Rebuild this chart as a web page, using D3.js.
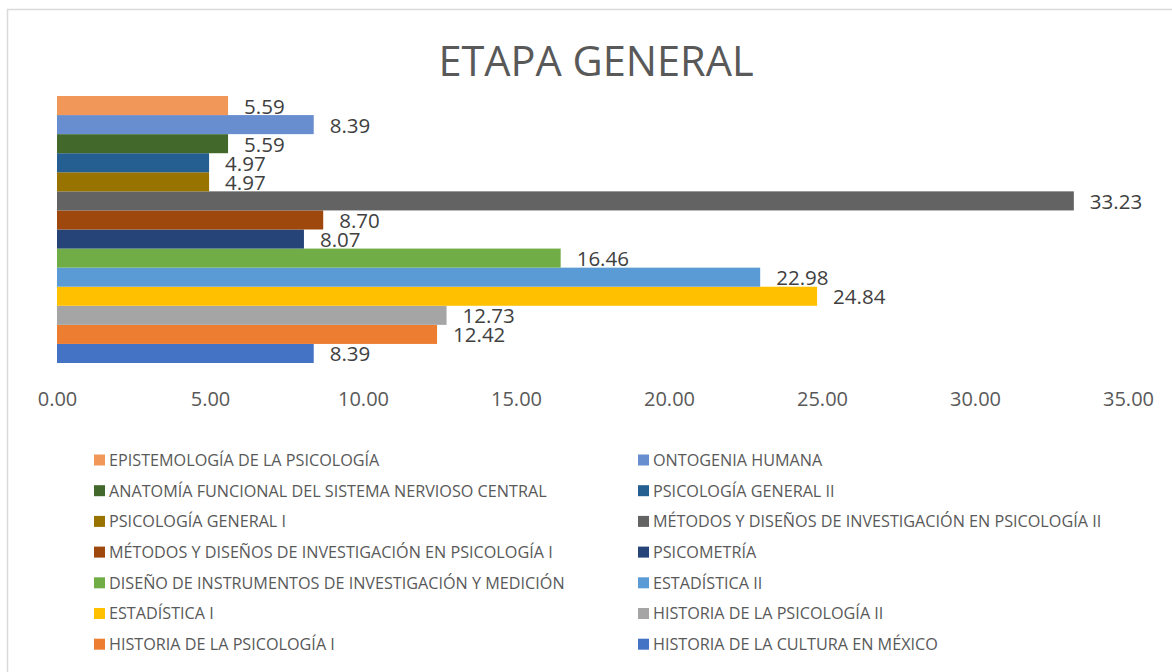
<!DOCTYPE html>
<html>
<head>
<meta charset="utf-8">
<script src="https://cdn.jsdelivr.net/npm/d3@7"></script>
<style>
  body { margin: 0; background: #fff; }
  svg { display: block; font-family: "Open Sans", sans-serif; }
</style>
</head>
<body>
<svg id="chart" width="1172" height="672"></svg>
<script>
// series in plot order (first one is the bottom bar)
var series = [
    "HISTORIA DE LA CULTURA EN MÉXICO",
    "HISTORIA DE LA PSICOLOGÍA I",
    "HISTORIA DE LA PSICOLOGÍA II",
    "ESTADÍSTICA I",
    "ESTADÍSTICA II",
    "DISEÑO DE INSTRUMENTOS DE INVESTIGACIÓN Y MEDICIÓN",
    "PSICOMETRÍA",
    "MÉTODOS Y DISEÑOS DE INVESTIGACIÓN EN PSICOLOGÍA I",
    "MÉTODOS Y DISEÑOS DE INVESTIGACIÓN EN PSICOLOGÍA II",
    "PSICOLOGÍA GENERAL I",
    "PSICOLOGÍA GENERAL II",
    "ANATOMÍA FUNCIONAL DEL SISTEMA NERVIOSO CENTRAL",
    "ONTOGENIA HUMANA",
    "EPISTEMOLOGÍA DE LA PSICOLOGÍA"
];
var values = [8.39, 12.42, 12.73, 24.84, 22.98, 16.46, 8.07, 8.70, 33.23, 4.97, 4.97, 5.59, 8.39, 5.59];
var colors = ["#4472C4", "#ED7D31", "#A5A5A5", "#FFC000", "#5B9BD5", "#70AD47",
              "#264478", "#9E480E", "#636363", "#997300", "#255E91", "#43682B",
              "#698ED0", "#F1975A"];
var xTicks = [0, 5, 10, 15, 20, 25, 30, 35];
var title = "ETAPA GENERAL";

var svg = d3.select("#chart");

// chart area frame
svg.append("rect")
    .attr("x", 7.5).attr("y", 9.5)
    .attr("width", 1180).attr("height", 680)
    .attr("fill", "#fff")
    .attr("stroke", "#d9d9d9")
    .attr("stroke-width", 1.5);

svg.append("text")
    .attr("x", 596).attr("y", 76)
    .attr("text-anchor", "middle")
    .attr("font-size", 41.5)
    .attr("fill", "#595959")
    .text(title);

var x = d3.scaleLinear().domain([0, 35]).range([57, 1128]);
var y = d3.scaleBand().domain(series).range([363, 96]).padding(0);

var rows = series.map(function(s, i) { return {name: s, value: values[i], color: colors[i]}; });

svg.append("g")
    .selectAll("rect.bar")
    .data(rows)
    .enter()
    .append("rect")
    .classed("bar", true)
    .attr("x", x(0))
    .attr("y", function(d) { return y(d.name); })
    .attr("width", function(d) { return x(d.value) - x(0); })
    .attr("height", y.bandwidth())
    .attr("fill", function(d) { return d.color; });

svg.append("g")
    .selectAll("text.lbl")
    .data(rows)
    .enter()
    .append("text")
    .classed("lbl", true)
    .attr("x", function(d) { return x(d.value) + 16; })
    .attr("y", function(d) { return y(d.name) + y.bandwidth() / 2 + 8; })
    .attr("font-size", 20.5)
    .attr("fill", "#404040")
    .text(function(d) { return d.value.toFixed(2); });

var axis = svg.append("g")
    .attr("transform", "translate(0,389)")
    .call(d3.axisBottom(x).tickValues(xTicks).tickSize(0).tickFormat(d3.format(".2f")));
axis.select(".domain").remove();
axis.selectAll("text")
    .attr("font-size", 20)
    .attr("font-family", "Open Sans, sans-serif")
    .attr("fill", "#595959");

// legend: reverse order, two columns
var legendRows = rows.slice().reverse();
var leg = svg.append("g")
    .selectAll("g")
    .data(legendRows)
    .enter()
    .append("g")
    .attr("transform", function(d, i) {
        var col = i % 2, row = Math.floor(i / 2);
        return "translate(" + (col == 0 ? 94 : 638) + "," + (460 + row * 30.7) + ")";
    });
leg.append("rect")
    .attr("x", 0).attr("y", -5.5)
    .attr("width", 11).attr("height", 11)
    .attr("fill", function(d) { return d.color; });
leg.append("text")
    .attr("x", 15).attr("y", 5.8)
    .attr("font-size", 16.2)
    .attr("fill", "#595959")
    .text(function(d) { return d.name; });
</script>
</body>
</html>
